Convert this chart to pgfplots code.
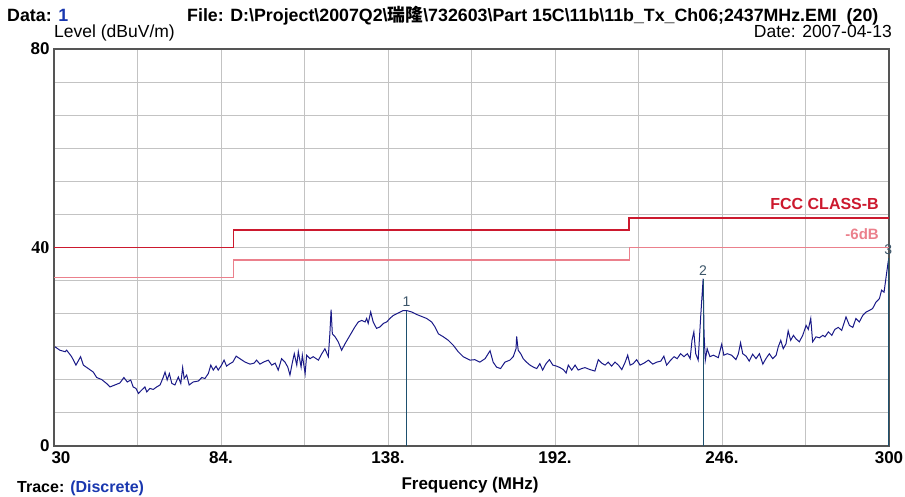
\documentclass[border=0pt]{standalone}
\usepackage{fontspec}
\setmainfont{Liberation Sans}
\newfontfamily\cjk{Noto Sans CJK SC}
\newfontfamily\serifnum{Liberation Serif}
\usepackage{pgfplots}
\pgfplotsset{compat=1.18}
\definecolor{fccred}{rgb}{0.80,0.10,0.18}
\definecolor{sixred}{rgb}{0.92,0.50,0.55}
\definecolor{tracec}{RGB}{25,25,135}
\definecolor{mkc}{RGB}{30,80,110}
\definecolor{mkt}{RGB}{60,85,105}
\definecolor{hdrblue}{RGB}{25,55,175}
\definecolor{framec}{RGB}{85,85,85}
\definecolor{gridc}{RGB}{195,195,195}
\pgfplotstableread{
f L
30.3 20.0
31.9 19.3
33.6 19.0
34.1 19.3
35.7 18.0
37.1 16.3
38.6 18.0
39.5 16.3
41.1 15.6
42.7 14.9
43.8 13.8
45.4 13.4
47.0 12.6
48.1 11.9
49.7 12.3
51.3 12.7
52.6 13.8
53.7 12.9
54.8 13.3
55.6 11.9
56.5 11.6
57.3 10.6
58.4 11.3
59.4 11.9
60.0 10.9
61.0 11.6
62.1 11.4
63.2 11.9
64.3 12.3
65.3 13.8
65.9 14.9
66.6 13.3
67.3 14.6
68.1 12.6
69.1 12.3
70.2 13.9
71.0 12.6
71.6 15.8
72.1 13.6
72.9 14.3
73.7 12.3
75.0 12.9
76.7 13.1
77.8 13.8
78.8 13.6
79.9 14.6
80.7 16.3
81.5 15.3
82.4 16.1
83.1 15.3
84.2 16.3
85.0 17.3
85.8 16.1
86.9 16.6
87.8 16.9
88.9 18.1
90.1 17.6
91.8 16.9
93.4 16.5
94.7 16.7
95.5 17.3
96.6 16.5
97.7 16.9
99.3 17.3
100.4 16.3
101.5 16.7
102.5 15.3
103.6 17.6
104.7 16.9
105.6 15.9
106.3 14.3
107.1 16.9
107.7 18.6
108.5 16.3
109.0 19.0
109.9 15.9
110.3 18.3
111.2 14.6
111.7 18.3
112.8 17.6
113.8 18.0
115.5 17.3
116.6 18.6
117.6 19.6
118.7 18.0
119.2 22.6
119.6 27.5
120.0 22.6
120.9 22.0
121.9 21.0
123.0 19.3
124.1 20.6
125.7 22.3
127.3 24.0
128.4 25.0
129.5 25.3
130.6 25.0
131.1 25.7
131.6 24.7
132.4 27.0
133.2 25.0
134.3 23.7
135.4 24.0
136.5 24.7
137.6 25.0
138.6 25.7
139.7 26.3
141.3 26.8
142.9 27.3
144.0 27.3
145.7 27.0
147.3 26.5
148.9 26.1
150.5 25.7
152.1 25.0
153.2 24.0
154.3 22.6
155.9 22.0
157.5 21.3
159.1 20.3
160.7 19.0
162.3 18.0
164.5 17.3
166.1 17.4
167.7 16.9
169.4 17.6
171.0 19.2
172.0 16.9
173.1 15.9
174.4 15.6
175.8 16.9
177.4 17.3
178.5 18.0
179.4 19.6
179.6 22.1
180.1 19.3
180.9 18.6
181.7 17.6
182.8 16.9
183.9 16.3
185.0 15.9
186.1 15.6
187.1 16.6
188.0 15.3
189.1 16.6
190.2 17.4
191.3 16.3
192.5 16.1
193.6 15.8
194.7 15.4
195.6 14.7
196.3 16.3
197.4 15.3
198.5 16.3
199.5 15.3
200.6 15.6
201.7 15.8
203.3 15.4
204.9 15.1
206.0 17.4
207.1 16.7
208.2 16.3
209.2 16.9
210.3 16.1
211.4 16.9
212.5 16.3
213.6 15.4
214.7 16.9
215.5 18.3
216.3 16.3
217.3 16.6
218.4 17.4
219.5 16.3
220.8 16.7
222.2 17.3
223.6 16.5
224.9 16.9
226.2 17.1
227.2 18.1
228.1 16.3
229.4 17.3
230.5 18.0
231.5 17.6
232.6 18.6
233.7 18.0
234.8 18.6
235.7 17.6
236.3 21.3
236.9 23.0
237.5 18.6
238.3 17.3
239.1 26.0
239.9 33.7
240.2 22.6
240.6 17.3
241.2 19.6
242.1 18.0
243.2 18.3
244.8 17.8
245.9 20.5
246.6 18.3
247.7 18.6
249.1 18.3
250.5 17.4
251.3 18.6
252.0 20.8
252.7 18.6
253.8 18.1
254.8 17.1
255.9 18.5
257.0 17.6
258.1 18.6
259.2 16.5
260.2 17.6
261.3 18.6
262.4 17.6
263.5 18.3
264.2 20.0
265.0 21.3
265.8 19.6
266.7 20.6
267.4 23.2
268.2 21.3
269.1 22.3
269.9 21.6
271.0 21.0
272.1 22.3
273.2 24.3
273.9 23.5
274.7 25.7
275.3 21.0
276.4 22.0
277.5 21.8
278.6 22.3
279.3 22.0
280.4 23.0
281.5 22.3
282.5 23.5
283.6 23.9
284.7 23.3
286.1 26.0
287.2 24.3
288.3 23.9
289.3 25.7
290.4 25.0
291.5 26.3
292.6 27.0
293.6 27.3
294.7 27.7
295.8 29.0
296.9 29.7
297.6 31.4
298.4 31.0
299.2 34.7
299.8 37.4
}\tracedata
\pgfplotstableread{
f L
30 40
88 43.5
216 46
300 46
}\fcctable
\pgfplotstableread{
f L
30 34
88 37.5
216 40
300 40
}\sixtable
\begin{document}
\begin{tikzpicture}[x=1pt,y=1pt]
\useasboundingbox (0,0) rectangle (905,496);
\begin{axis}[
  at={(54pt,50pt)}, anchor=south west,
  scale only axis, width=835pt, height=397pt,
  xmin=30, xmax=300, ymin=0, ymax=80,
  clip=false,
  xtick={30,84,138,192,246,300},
  xticklabels={{\hspace*{14pt}30},84.,138.,192.,246.,300},
  minor xtick={57,111,165,219,273},
  ytick={0,40,80},
  yticklabels={0,{\serifnum\fontsize{18}{20}\selectfont 40},80},
  minor ytick={6.6667,13.3333,20,26.6667,33.3333,46.6667,53.3333,60,66.6667,73.3333},
  grid=both,
  major grid style={draw=gridc, line width=0.9pt},
  minor grid style={draw=gridc, line width=0.9pt},
  major tick length=0pt, minor tick length=0pt,
  axis line style={draw=framec, line width=1.6pt},
  tick label style={font=\bfseries\fontsize{17}{19}\selectfont},
  xticklabel style={yshift=-2pt},
  yticklabel style={xshift=-1pt},
]
\addplot[color=tracec, line width=1.0pt, mark=none] table[x=f, y=L] {\tracedata};
\addplot[ycomb, color=mkc, line width=1.2pt, mark=none,
  nodes near coords, point meta=explicit symbolic,
  nodes near coords style={anchor=south, font=\fontsize{14}{16}\selectfont, text=mkt, inner sep=1pt, yshift=2pt}]
  coordinates {(144.0,27.3) [1] (239.9,33.7) [2] (299.8,37.8) [3]};
\addplot[const plot, color=sixred, solid, line width=1.3pt, mark=none] table[x=f, y=L] {\sixtable};
\addplot[const plot, color=fccred, solid, line width=1.7pt, mark=none] table[x=f, y=L] {\fcctable};
\end{axis}
\node[anchor=base west, inner sep=0pt, font=\bfseries\fontsize{17.8}{19}\selectfont] at (7,474.5) {Data: \textcolor{hdrblue}{1}};
\node[anchor=base west, inner sep=0pt, font=\bfseries\fontsize{17.8}{19}\selectfont] at (187,474.5) {File: D:\textbackslash Project\textbackslash 2007Q2\textbackslash{\cjk\bfseries 瑞隆}\textbackslash 732603\textbackslash Part 15C\textbackslash 11b\textbackslash 11b\_Tx\_Ch06;2437MHz.EMI\ \ (20)};
\node[anchor=base west, inner sep=0pt, font=\fontsize{17.5}{20}\selectfont] at (54,458) {Level (dBuV/m)};
\node[anchor=base east, inner sep=0pt, font=\fontsize{17.5}{20}\selectfont] at (892,458) {Date: 2007-04-13};
\node[anchor=base east, inner sep=0pt, text=fccred, font=\bfseries\fontsize{16}{18}\selectfont] at (879,286) {FCC CLASS-B};
\node[anchor=base east, inner sep=0pt, text=sixred, font=\bfseries\fontsize{15}{18}\selectfont] at (879,256) {-6dB};
\node[anchor=base, inner sep=0pt, font=\bfseries\fontsize{17}{19}\selectfont] at (470,7) {Frequency (MHz)};
\node[anchor=base west, inner sep=0pt, font=\bfseries\fontsize{16}{18}\selectfont] at (17,4) {Trace: \textcolor{hdrblue}{(Discrete)}};
\end{tikzpicture}
\end{document}
